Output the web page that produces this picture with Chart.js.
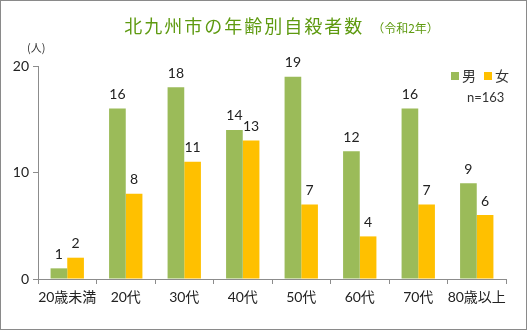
<!DOCTYPE html>
<html>
<head>
<meta charset="utf-8">
<script src="https://cdn.jsdelivr.net/npm/chart.js@4/dist/chart.umd.min.js"></script>
<style>
  body { margin: 0; background: #fff; }
  #wrap { position: relative; width: 527px; height: 330px; font-family: Lato, "Noto Sans CJK JP", sans-serif; }
  #frame { position: absolute; left: 0; top: 0; width: 527px; height: 330px; box-sizing: border-box; border: 1px solid #8a8a8a; pointer-events: none; }
  #title { position: absolute; left: 0; width: 527px; top: 12px; text-align: center; color: #5e9a10; padding-left: 36px; box-sizing: border-box; }
  #title .main { font-size: 18px; letter-spacing: 2px; font-family: "Noto Sans CJK JP", sans-serif; }
  #title .sub { font-size: 12px; font-family: "Noto Sans CJK JP", sans-serif; margin-left: 8px; }
  #unit { position: absolute; left: 27px; top: 39px; font-size: 11px; color: #333; font-family: "Noto Sans CJK JP", sans-serif; }
  #legend { position: absolute; left: 451px; top: 65px; font-size: 14px; color: #333; font-family: "Noto Sans CJK JP", sans-serif; }
  #legend .sw { display: inline-block; width: 8px; height: 8px; margin-right: 3px; vertical-align: 1px; }
  #legend .item { margin-right: 8px; }
  #ncount { position: absolute; left: 467px; top: 89px; font-size: 13px; color: #333; }
</style>
</head>
<body>
<div id="wrap">
  <canvas id="chart" width="527" height="330"></canvas>
  <div id="title"><span class="main">北九州市の年齢別自殺者数</span><span class="sub">（令和2年）</span></div>
  <div id="unit">(人)</div>
  <div id="legend"></div>
  <div id="ncount"></div>
  <div id="frame"></div>
</div>
<script>
// 年齢階級と人数
const ageGroups = ["20歳未満", "20代", "30代", "40代", "50代", "60代", "70代", "80歳以上"];
const maleCounts = [1, 16, 18, 14, 19, 12, 16, 9];
const femaleCounts = [2, 8, 11, 13, 7, 4, 7, 6];
const seriesNames = ["男", "女"];
const totalLabel = "n=163";

const maleColor = "#9bbb59";
const femaleColor = "#ffc000";
const axisColor = "#8c8c8c";

// 凡例 (HTML)
document.getElementById("legend").innerHTML =
  "<span class='item'><span class='sw' style='background:" + maleColor + "'></span>" + seriesNames[0] + "</span>" +
  "<span><span class='sw' style='background:" + femaleColor + "'></span>" + seriesNames[1] + "</span>";
document.getElementById("ncount").textContent = totalLabel;

// 棒の上に数値を描く
const valueLabels = {
  id: "valueLabels",
  afterDatasetsDraw(chart) {
    const ctx = chart.ctx;
    ctx.save();
    ctx.font = "14px Lato, 'Noto Sans CJK JP', sans-serif";
    ctx.fillStyle = "#222";
    ctx.textAlign = "center";
    ctx.textBaseline = "bottom";
    chart.data.datasets.forEach((ds, i) => {
      chart.getDatasetMeta(i).data.forEach((bar, j) => {
        ctx.fillText(ds.data[j], bar.x, bar.y - 7);
      });
    });
    ctx.restore();
  }
};

const ctx = document.getElementById("chart").getContext("2d");
new Chart(ctx, {
  type: "bar",
  data: {
    labels: ageGroups,
    datasets: [
      { label: seriesNames[0], data: maleCounts, backgroundColor: maleColor },
      { label: seriesNames[1], data: femaleCounts, backgroundColor: femaleColor }
    ]
  },
  options: {
    responsive: false,
    animation: false,
    categoryPercentage: 0.57,
    barPercentage: 1.0,
    layout: { padding: { left: 0, right: 21, top: 66, bottom: 21 } },
    plugins: { legend: { display: false }, title: { display: false }, tooltip: { enabled: false } },
    scales: {
      x: {
        grid: { drawOnChartArea: false, drawTicks: true, tickLength: 5, color: axisColor, offset: true },
        border: { color: axisColor },
        ticks: { color: "#222", font: { size: 14, family: "Lato, 'Noto Sans CJK JP', sans-serif" }, padding: 5, maxRotation: 0, autoSkip: false },
        afterFit(scale) { scale.height = 30; }
      },
      y: {
        min: 0, max: 20,
        ticks: { stepSize: 10, color: "#222", font: { size: 14, family: "Lato, sans-serif" }, padding: 4 },
        grid: { drawOnChartArea: false, drawTicks: true, tickLength: 5, color: axisColor },
        border: { color: axisColor },
        afterFit(scale) { scale.width = 38; }
      }
    }
  },
  plugins: [valueLabels]
});
</script>
</body>
</html>
